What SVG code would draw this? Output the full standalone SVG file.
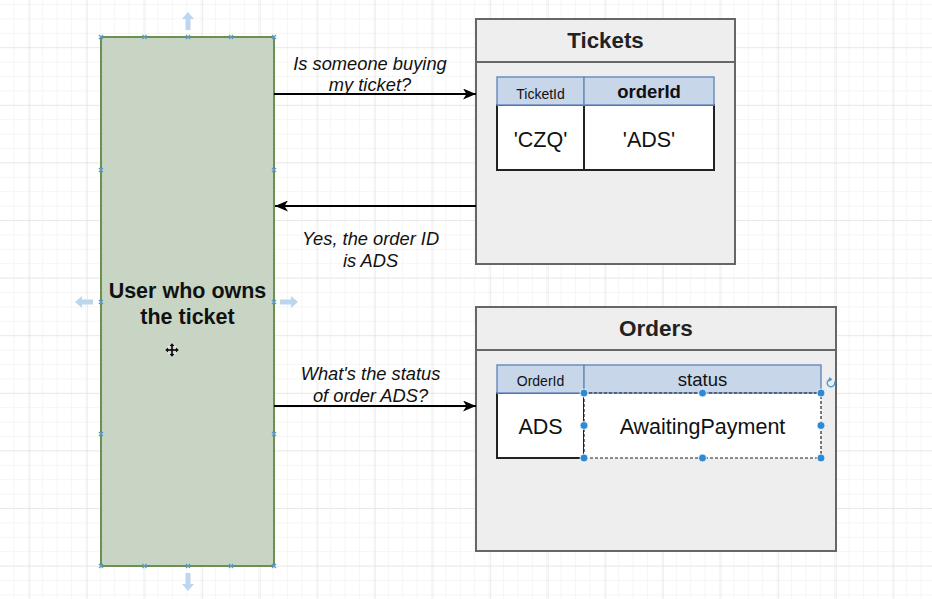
<svg xmlns="http://www.w3.org/2000/svg" width="932" height="599" viewBox="0 0 932 599">
<defs>
<pattern id="minor" x="0" y="4" width="14.4" height="14.4" patternUnits="userSpaceOnUse">
<path d="M14.4 0V14.4M0 0H14.4" fill="none" stroke="#ececec" stroke-width="1"/>
</pattern>
<pattern id="major" x="29.3" y="47.2" width="57.6" height="57.6" patternUnits="userSpaceOnUse">
<path d="M0 0V57.6M0 0H57.6" fill="none" stroke="#dcdcdc" stroke-width="1"/>
</pattern>
<marker id="arr" viewBox="0 0 13 11" refX="13" refY="5.5" markerWidth="13" markerHeight="11" markerUnits="userSpaceOnUse" orient="auto">
<path d="M0 0L13 5.5L0 11L3.5 5.5Z" fill="#000"/>
</marker>
<path id="xm" d="M-2 -2L2 2M-2 2L2 -2" stroke="#5b9bd5" stroke-width="1.2" fill="none"/>
<path id="barr" d="M0 -9L6 -2H2.5V9H-2.5V-2H-6Z" fill="#bcd6ee"/>
<circle id="hd" r="4" fill="#2f8ad2" stroke="#fff" stroke-width="0.8"/>
</defs>
<style>
text{font-family:"Liberation Sans",Arial,Helvetica,sans-serif;fill:#111;text-anchor:middle}
.lbl{font-size:18.3px;font-style:italic}
.box{fill:#eeeeee;stroke:#666;stroke-width:2}
.th{fill:#c8d6ea;stroke:#6c8ebf;stroke-width:1.5}
.td{fill:#fff;stroke:#222;stroke-width:2}
.ttl{font-size:22.3px;font-weight:bold;fill:#222}
.small{font-size:14px}
.cell{font-size:21.5px}
.conn{stroke:#000;stroke-width:2;fill:none;marker-end:url(#arr)}
</style>
<rect width="932" height="599" fill="#fff"/>
<rect width="932" height="599" fill="url(#minor)"/>
<rect width="932" height="599" fill="url(#major)"/>

<g id="user">
<rect x="101" y="37" width="173" height="529" fill="#c8d5c4" stroke="#6a9150" stroke-width="2"/>
<text x="187.5" y="297.5" style="font-size:21.5px;font-weight:bold">User who owns</text>
<text x="187.5" y="323.5" style="font-size:21.5px;font-weight:bold">the ticket</text>
<use href="#xm" x="101" y="37"/><use href="#xm" x="144.5" y="37"/><use href="#xm" x="188" y="37"/><use href="#xm" x="231" y="37"/><use href="#xm" x="274" y="37"/>
<use href="#xm" x="101" y="566"/><use href="#xm" x="144.5" y="566"/><use href="#xm" x="188" y="566"/><use href="#xm" x="231" y="566"/><use href="#xm" x="274" y="566"/>
<use href="#xm" x="101" y="170"/><use href="#xm" x="101" y="302"/><use href="#xm" x="101" y="434"/>
<use href="#xm" x="274" y="170"/><use href="#xm" x="274" y="302"/><use href="#xm" x="274" y="434"/>
<use href="#barr" transform="translate(188 21)"/>
<use href="#barr" transform="translate(188 582) rotate(180)"/>
<use href="#barr" transform="translate(84 302) rotate(-90)"/>
<use href="#barr" transform="translate(289 302) rotate(90)"/>
<path d="M172 342.5L175.5 346.5H173.3V348.7H175.5V346.5L179.5 350L175.5 353.5V351.3H173.3V353.5H175.5L172 357.5L168.5 353.5H170.7V351.3H168.5V353.5L164.5 350L168.5 346.5V348.7H170.7V346.5H168.5Z" fill="#111" stroke="#fff" stroke-width="0.8"/>
</g>

<g id="tickets">
<rect class="box" x="476" y="19" width="259" height="245"/>
<line x1="476" y1="62" x2="735" y2="62" stroke="#666" stroke-width="2"/>
<text class="ttl" x="605.5" y="47.5">Tickets</text>
<rect class="td" x="497" y="105" width="87" height="65"/>
<rect class="td" x="584" y="105" width="130" height="65"/>
<rect class="th" x="497" y="77" width="87" height="28"/>
<rect class="th" x="584" y="77" width="130" height="28"/>
<text class="small" x="540.5" y="98.5">TicketId</text>
<text x="649" y="98" style="font-size:18.5px;font-weight:bold">orderId</text>
<text class="cell" x="540.5" y="146.5">'CZQ'</text>
<text class="cell" x="649" y="146.5">'ADS'</text>
</g>

<g id="orders">
<rect class="box" x="476" y="307" width="360" height="244"/>
<line x1="476" y1="350" x2="836" y2="350" stroke="#666" stroke-width="2"/>
<text class="ttl" x="656" y="335.5" style="font-size:22.5px">Orders</text>
<rect class="td" x="497" y="393" width="87" height="65"/>
<rect x="584" y="393" width="237" height="65" fill="#fff"/>
<rect class="th" x="497" y="365" width="87" height="28"/>
<rect class="th" x="584" y="365" width="237" height="28"/>
<text class="small" x="540.5" y="386">OrderId</text>
<text x="702.5" y="386" style="font-size:18.5px">status</text>
<text class="cell" x="540.5" y="434">ADS</text>
<text class="cell" x="702.5" y="434">AwaitingPayment</text>
<rect x="584" y="393" width="237" height="65" fill="none" stroke="#222" stroke-width="1.2" stroke-dasharray="3 2"/>
<use href="#hd" x="584" y="393"/><use href="#hd" x="702.5" y="393"/><use href="#hd" x="821" y="393"/>
<use href="#hd" x="584" y="425.5"/><use href="#hd" x="821" y="425.5"/>
<use href="#hd" x="584" y="458"/><use href="#hd" x="702.5" y="458"/><use href="#hd" x="821" y="458"/>
<path d="M834.5 381.5A3.8 3.8 0 1 1 830.5 379.2" fill="none" stroke="#4a9ad8" stroke-width="1.4"/>
<path d="M829 377L832.5 379.3L829.3 381.8Z" fill="#4a9ad8"/>
</g>

<g id="connectors">
<line class="conn" x1="274" y1="94" x2="476" y2="94"/>
<line class="conn" x1="476" y1="206" x2="275" y2="206"/>
<line class="conn" x1="274" y1="406" x2="476" y2="406"/>
<text class="lbl" x="370" y="70">Is someone buying</text>
<text class="lbl" x="370" y="91">my ticket?</text>
<text class="lbl" x="370.5" y="245">Yes, the order ID</text>
<text class="lbl" x="370.5" y="266.5">is ADS</text>
<text class="lbl" x="370.5" y="380">What's the status</text>
<text class="lbl" x="370.5" y="401.5">of order ADS?</text>
</g>
</svg>
